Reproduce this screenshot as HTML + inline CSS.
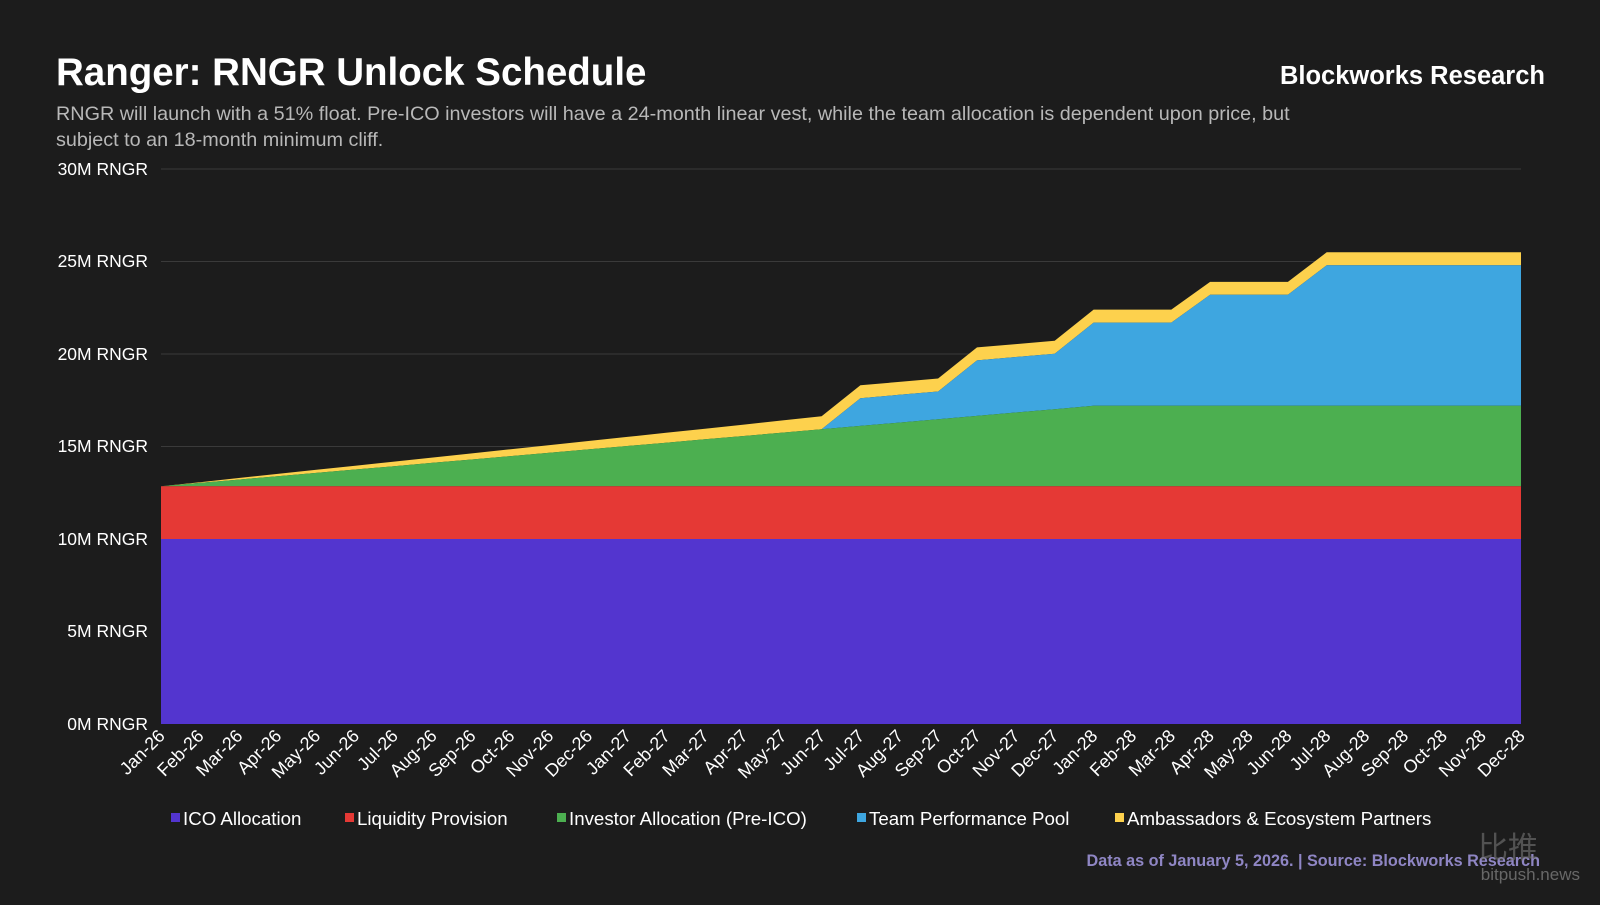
<!DOCTYPE html>
<html><head><meta charset="utf-8"><style>
html,body{margin:0;padding:0;background:#1c1c1c;}
body{width:1600px;height:900px;overflow:hidden;font-family:"Liberation Sans","Noto Sans CJK SC",sans-serif;}
</style></head><body>
<svg id="c" width="1600" height="900" viewBox="0 0 1600 900" xmlns="http://www.w3.org/2000/svg" font-family="Liberation Sans, Noto Sans CJK SC, sans-serif">
<rect width="1600" height="900" fill="#1c1c1c"/>
<text x="56" y="85" fill="#fff" font-size="38.5" font-weight="bold">Ranger: RNGR Unlock Schedule</text>
<text x="1545" y="84" fill="#fff" font-size="25.5" font-weight="bold" text-anchor="end">Blockworks Research</text>
<text x="56" y="120" fill="#b8b8b8" font-size="19.8">RNGR will launch with a 51% float. Pre-ICO investors will have a 24-month linear vest, while the team allocation is dependent upon price, but</text>
<text x="56" y="146" fill="#b8b8b8" font-size="19.8">subject to an 18-month minimum cliff.</text>
<g stroke="#3a3a3a" stroke-width="1">
<line x1="161" x2="1521" y1="169" y2="169"/><line x1="161" x2="1521" y1="261.5" y2="261.5"/><line x1="161" x2="1521" y1="354" y2="354"/><line x1="161" x2="1521" y1="446.5" y2="446.5"/><line x1="161" x2="1521" y1="539" y2="539"/><line x1="161" x2="1521" y1="631.5" y2="631.5"/>
</g>
<g fill="#fff" font-size="17.5" text-anchor="end">
<text x="148" y="175">30M RNGR</text><text x="148" y="267">25M RNGR</text><text x="148" y="360">20M RNGR</text><text x="148" y="452">15M RNGR</text><text x="148" y="545">10M RNGR</text><text x="148" y="637">5M RNGR</text><text x="148" y="730">0M RNGR</text>
</g>
<g id="areas"></g>
<g id="xl" fill="#fff" font-size="18" text-anchor="end">
<text>Jan-26</text><text>Feb-26</text><text>Mar-26</text><text>Apr-26</text><text>May-26</text><text>Jun-26</text><text>Jul-26</text><text>Aug-26</text><text>Sep-26</text><text>Oct-26</text><text>Nov-26</text><text>Dec-26</text><text>Jan-27</text><text>Feb-27</text><text>Mar-27</text><text>Apr-27</text><text>May-27</text><text>Jun-27</text><text>Jul-27</text><text>Aug-27</text><text>Sep-27</text><text>Oct-27</text><text>Nov-27</text><text>Dec-27</text><text>Jan-28</text><text>Feb-28</text><text>Mar-28</text><text>Apr-28</text><text>May-28</text><text>Jun-28</text><text>Jul-28</text><text>Aug-28</text><text>Sep-28</text><text>Oct-28</text><text>Nov-28</text><text>Dec-28</text>
</g>
<g font-size="18.7" fill="#fff">
<rect x="171" y="813" width="9" height="9" fill="#5335cf"/><text x="183" y="825">ICO Allocation</text>
<rect x="345" y="813" width="9" height="9" fill="#e53935"/><text x="357" y="825">Liquidity Provision</text>
<rect x="557" y="813" width="9" height="9" fill="#4caf50"/><text x="569" y="825">Investor Allocation (Pre-ICO)</text>
<rect x="857" y="813" width="9" height="9" fill="#3ea6e0"/><text x="869" y="825">Team Performance Pool</text>
<rect x="1115" y="813" width="9" height="9" fill="#fdd14d"/><text x="1127" y="825">Ambassadors &amp; Ecosystem Partners</text>
</g>
<text x="1540" y="866" fill="#8f86c4" font-size="16.2" font-weight="bold" text-anchor="end">Data as of January 5, 2026. | Source: Blockworks Research</text>
<text x="1478" y="858" fill="#777" font-size="30" opacity="0.6">比推</text>
<text x="1580" y="880" fill="#888" font-size="17" text-anchor="end" opacity="0.7">bitpush.news</text>
</svg>
<script>
var X=i=>161+i*38.857, Y=v=>724-v*18.5;
var ico=[],liq=[],inv=[],team=[],amb=[];
for(var i=0;i<36;i++){
 var a=10,b=12.85,c=b+Math.min(i,24)*4.35/24;
 var t=i<=17?0:i<=20?1.5:i<=23?3:i<=26?4.5:i<=29?6:7.6;
 var d=c+t, e=d+Math.min(i,17)/17*0.7;
 ico.push(a);liq.push(b);inv.push(c);team.push(d);amb.push(e);
}
function area(top,bot,col){
 var p=[];for(var i=0;i<36;i++)p.push(X(i).toFixed(1)+","+Y(top[i]).toFixed(1));
 for(var i=35;i>=0;i--)p.push(X(i).toFixed(1)+","+(bot?Y(bot[i]):724).toFixed(1));
 return '<polygon points="'+p.join(" ")+'" fill="'+col+'"/>';
}
document.getElementById("areas").innerHTML=
 area(amb,team,"#fdd14d")+area(team,inv,"#3ea6e0")+area(inv,liq,"#4caf50")+area(liq,ico,"#e53935")+area(ico,null,"#5335cf");
var ts=document.querySelectorAll("#xl text");
ts.forEach(function(t,i){var x=X(i)+5,y=737;t.setAttribute("x",x);t.setAttribute("y",y);t.setAttribute("transform","rotate(-45 "+x+" "+y+")");});
</script>
</body></html>
